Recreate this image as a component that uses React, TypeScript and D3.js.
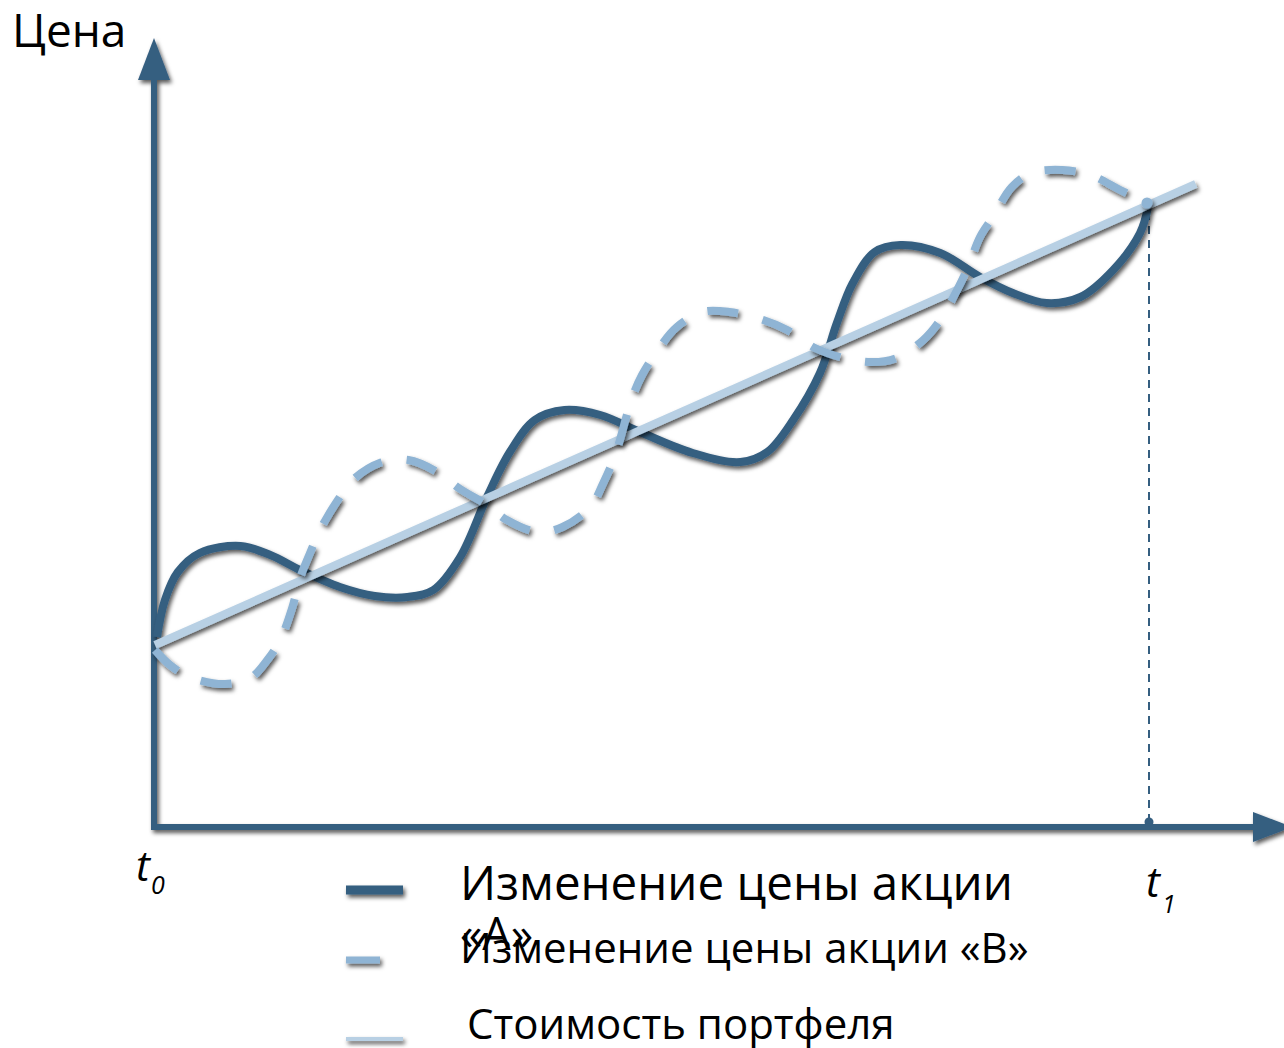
import React from "react";
import * as d3 from "d3";

// time axis: t0 = 0, t1 = 100 ; price axis: arbitrary units 0..80
const stockA_t = [0.3, 1.1, 2.4, 4.6, 8.7, 11.7, 14.7, 18.7, 22.2, 25.5, 28.1, 30.8, 33.5, 35.8, 38.3, 41.3, 44.9, 48.9, 54.2, 59.0, 61.7, 64.3, 67.0, 68.7, 70.3, 72.5, 75.1, 79.1, 83.1, 86.4, 89.8, 93.2, 96.5, 99.2, 100];
const stockA_v = [19.0, 22.7, 25.5, 27.4, 28.1, 27.2, 25.7, 24.0, 23.1, 23.0, 23.7, 27.0, 33.0, 37.5, 40.7, 41.7, 41.2, 39.5, 37.4, 36.5, 37.5, 40.7, 45.4, 50.4, 54.4, 57.5, 58.2, 57.4, 55.0, 53.4, 52.4, 53.0, 55.7, 59.4, 62.0];

const stockB_t = [0.1, 1.6, 3.6, 7.1, 9.7, 11.4, 12.7, 13.9, 14.7, 15.7, 16.7, 18.5, 20.0, 22.7, 25.6, 28.5, 30.8, 33.5, 35.5, 38.6, 41.1, 43.9, 45.2, 46.4, 48.1, 49.1, 50.9, 52.6, 55.2, 57.9, 61.3, 63.7, 66.5, 69.0, 72.2, 74.7, 77.4, 79.1, 80.8, 81.9, 83.1, 84.4, 86.3, 88.3, 91.4, 94.2, 97.2, 99.9];
const stockB_v = [17.7, 16.2, 15.0, 14.3, 14.9, 16.7, 18.7, 21.9, 24.9, 27.4, 29.7, 32.7, 34.7, 36.4, 36.7, 35.5, 33.8, 32.2, 30.7, 29.5, 30.0, 32.0, 34.4, 37.2, 42.9, 45.2, 48.0, 50.0, 51.5, 51.5, 50.7, 49.7, 47.9, 47.0, 46.5, 46.9, 48.7, 50.7, 53.7, 56.0, 59.0, 61.0, 64.0, 65.4, 65.7, 65.2, 63.7, 62.4];

const portfolio_t = [0.1, 104.8];
const portfolio_v = [18.2, 64.3];

const legendLabels = ["Изменение цены акции «А»", "Изменение цены акции «В»", "Стоимость портфеля"];

const DARK = "#355e80";
const MID = "#8fb4d4";
const LIGHT = "#b8d0e4";
const FONT = "'Open Sans', 'Noto Sans', sans-serif";

export default function App() {
  const x = d3.scaleLinear().domain([0, 100]).range([154, 1148]);
  const y = d3.scaleLinear().domain([0, 80]).range([827, 27]);

  const line = d3
    .line<[number, number]>()
    .x((d) => x(d[0]))
    .y((d) => y(d[1]))
    .curve(d3.curveCatmullRom.alpha(0.5));

  const A = stockA_t.map((t, i) => [t, stockA_v[i]] as [number, number]);
  const B = stockB_t.map((t, i) => [t, stockB_v[i]] as [number, number]);
  const P = portfolio_t.map((t, i) => [t, portfolio_v[i]] as [number, number]);
  const straight = d3.line<[number, number]>().x((d) => x(d[0])).y((d) => y(d[1]));

  const x0 = x(0);
  const y0 = y(0);
  const t1x = x(100) + 1;
  const bLast = B[B.length - 1];

  return (
    <svg
      width={1284}
      height={1048}
      style={{ position: "absolute", left: 0, top: 0, background: "#fff" }}
    >
      <defs>
        <filter id="sh" x="-20%" y="-20%" width="140%" height="140%">
          <feDropShadow dx="2" dy="3" stdDeviation="2" floodColor="#000" floodOpacity="0.65" />
        </filter>
      </defs>

      {/* axes */}
      <g filter="url(#sh)">
        <line x1={x0} y1={y0 + 3} x2={x0} y2={78} stroke={DARK} strokeWidth={6} />
        <path d={`M${x0},38 L${x0 + 16},80 L${x0 - 16},80 Z`} fill={DARK} />
        <line x1={x0 - 3} y1={y0} x2={1256} y2={y0} stroke={DARK} strokeWidth={6} />
        <path d={`M1292,${y0} L1253,${y0 - 15} L1253,${y0 + 15} Z`} fill={DARK} />
      </g>

      {/* t1 dashed guide */}
      <line x1={t1x} y1={212} x2={t1x} y2={y0 - 4} stroke={DARK} strokeWidth={2} strokeDasharray="8 6" />
      <circle cx={t1x} cy={y0 - 5} r={4.5} fill={DARK} />

      {/* stock A */}
      <path d={line(A) || ""} fill="none" stroke={DARK} strokeWidth={8} filter="url(#sh)" />
      {/* portfolio */}
      <path d={straight(P) || ""} fill="none" stroke={LIGHT} strokeWidth={8} filter="url(#sh)" />
      {/* stock B */}
      <g filter="url(#sh)">
        <path d={line(B) || ""} fill="none" stroke={MID} strokeWidth={8} strokeDasharray="31 25" />
        <circle cx={x(bLast[0])} cy={y(bLast[1])} r={5.5} fill={MID} />
      </g>

      {/* texts */}
      <text x={12} y={47} fontFamily={FONT} fontSize={46} fill="#000">Цена</text>
      <text x={136} y={881} fontFamily={FONT} fontSize={42} fontStyle="italic" fill="#000">t</text>
      <text x={151} y={894} fontFamily={FONT} fontSize={25} fontStyle="italic" fill="#000">0</text>
      <text x={1146} y={897} fontFamily={FONT} fontSize={42} fontStyle="italic" fill="#000">t</text>
      <text x={1162} y={913} fontFamily={FONT} fontSize={25} fontStyle="italic" fill="#000">1</text>

      {/* legend */}
      <g filter="url(#sh)">
        <line x1={346} y1={890} x2={403} y2={890} stroke={DARK} strokeWidth={9} />
        <line x1={346} y1={960} x2={380} y2={960} stroke={MID} strokeWidth={7} />
        <line x1={346} y1={1039} x2={403} y2={1039} stroke={LIGHT} strokeWidth={4} />
      </g>
      <text x={460} y={900} fontFamily={FONT} fontSize={47.5} fill="#000">Изменение цены акции</text>
      <text x={460} y={950} fontFamily={FONT} fontSize={45} fill="#000">«А»</text>
      <text x={460} y={963} fontFamily={FONT} fontSize={42} fill="#000">{legendLabels[1]}</text>
      <text x={467} y={1039} fontFamily={FONT} fontSize={42} fill="#000">{legendLabels[2]}</text>
    </svg>
  );
}
